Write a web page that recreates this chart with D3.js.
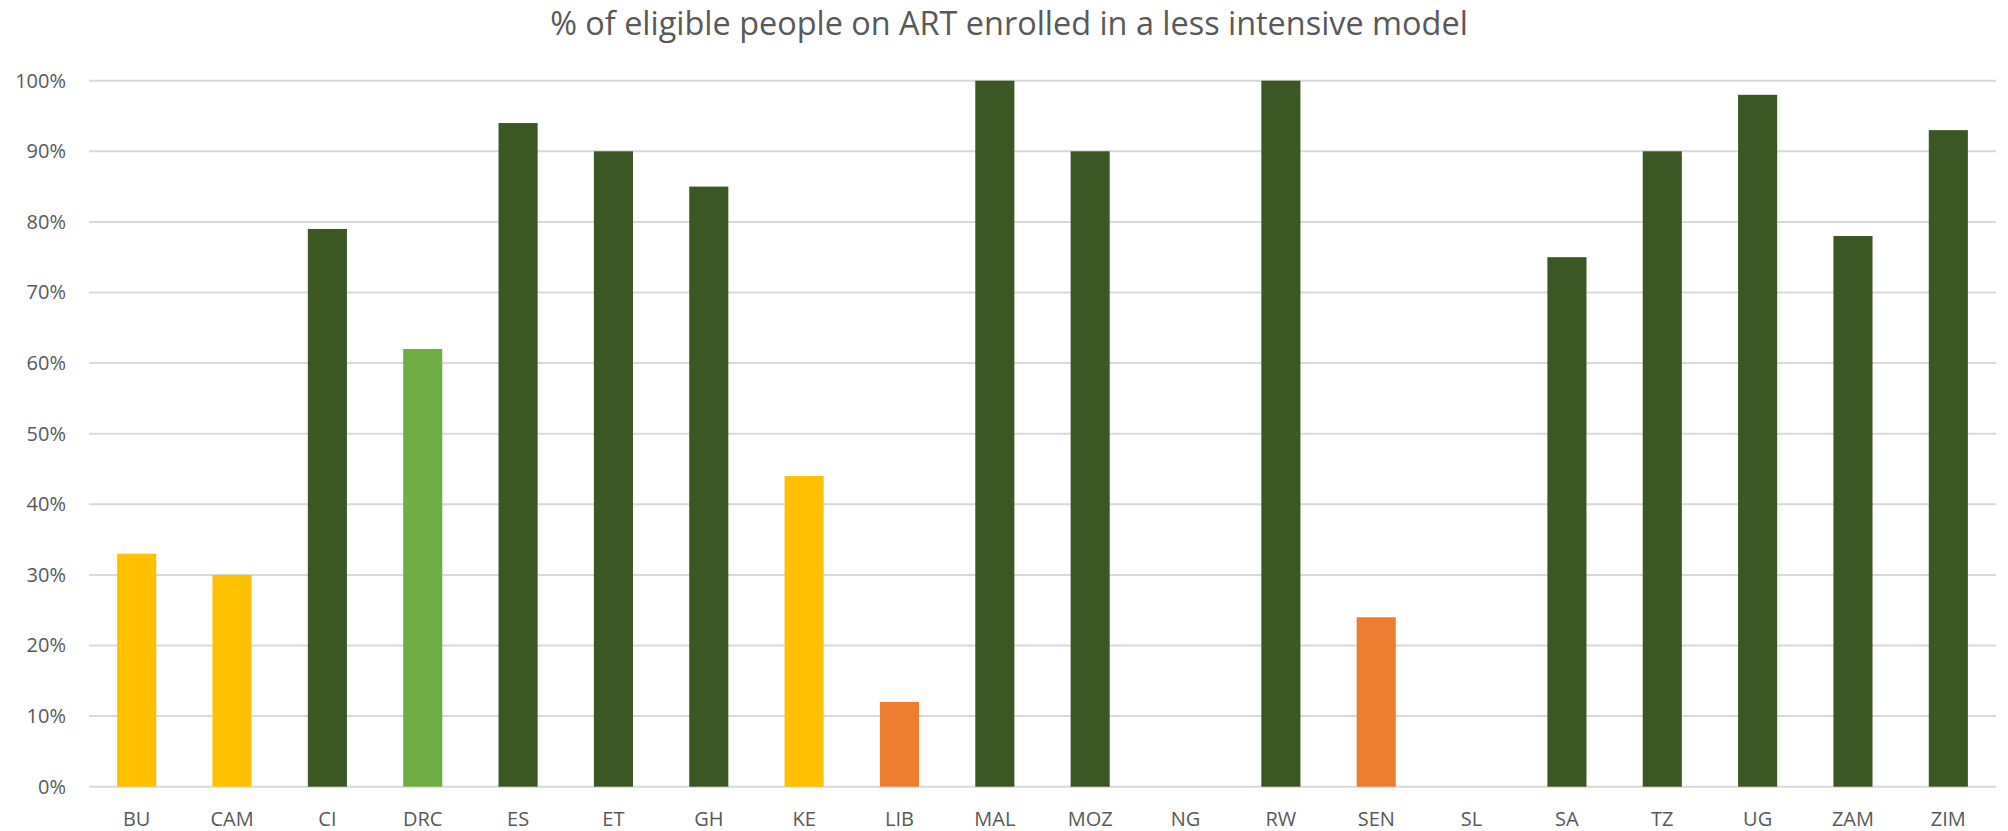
<!DOCTYPE html>
<html>
<head>
<meta charset="utf-8">
<script src="https://cdn.jsdelivr.net/npm/d3@7"></script>
<style>
  html, body { margin: 0; padding: 0; background: #ffffff; }
  svg { display: block; font-family: "Open Sans", "Liberation Sans", sans-serif; }
</style>
</head>
<body>
<svg id="chart" width="2008" height="831"></svg>
<script>
// Countries on the x axis
const countries = ["BU", "CAM", "CI", "DRC", "ES", "ET", "GH", "KE", "LIB", "MAL",
                   "MOZ", "NG", "RW", "SEN", "SL", "SA", "TZ", "UG", "ZAM", "ZIM"];
// Share of eligible people on ART enrolled in a less intensive model (%)
const shares = [33, 30, 79, 62, 94, 90, 85, 44, 12, 100,
                90, 0, 100, 24, 0, 75, 90, 98, 78, 93];
// Coverage band each country falls into
const bands = ["mid", "mid", "high", "upper", "high", "high", "high", "mid", "low", "high",
               "high", "low", "high", "low", "low", "high", "high", "high", "high", "high"];
// Y axis ticks (%)
const yTicks = [0, 10, 20, 30, 40, 50, 60, 70, 80, 90, 100];

const titleText = "% of eligible people on ART enrolled in a less intensive model";

const W = 2008, H = 831;
const plot = { left: 89, right: 1996, top: 80.7, bottom: 786.7 };

const svg = d3.select("#chart");

const x = d3.scaleBand()
  .domain(countries)
  .range([plot.left, plot.right])
  .paddingInner(0.59)
  .paddingOuter(0.295);

const y = d3.scaleLinear()
  .domain([0, 100])
  .range([plot.bottom, plot.top]);

const color = d3.scaleOrdinal()
  .domain(["low", "mid", "upper", "high"])
  .range(["#ED7D31", "#FFC000", "#70AD47", "#3A5724"]);

// Gridlines
svg.append("g")
  .selectAll("line")
  .data(yTicks)
  .join("line")
  .attr("x1", plot.left)
  .attr("x2", plot.right)
  .attr("y1", d => y(d))
  .attr("y2", d => y(d))
  .attr("stroke", "#D9D9D9")
  .attr("stroke-width", 2);

// Y axis labels
const yAxis = d3.axisLeft(y)
  .tickValues(yTicks)
  .tickFormat(d => d + "%")
  .tickSize(0)
  .tickPadding(0);

svg.append("g")
  .attr("transform", `translate(${66},0)`)
  .call(yAxis)
  .call(g => g.select(".domain").remove())
  .call(g => g.selectAll("text")
    .attr("fill", "#595959")
    .attr("font-size", 20)
    .attr("font-family", "'Open Sans', 'Liberation Sans', sans-serif"));

// Bars
svg.append("g")
  .selectAll("rect")
  .data(countries.map((c, i) => ({ c, v: shares[i], b: bands[i] })))
  .join("rect")
  .attr("x", d => x(d.c))
  .attr("width", x.bandwidth())
  .attr("y", d => y(d.v))
  .attr("height", d => y(0) - y(d.v))
  .attr("fill", d => color(d.b));

// X axis labels
const xAxis = d3.axisBottom(x)
  .tickSize(0)
  .tickPadding(0);

svg.append("g")
  .attr("transform", `translate(0,${826})`)
  .call(xAxis)
  .call(g => g.select(".domain").remove())
  .call(g => g.selectAll("text")
    .attr("dy", 0)
    .attr("fill", "#595959")
    .attr("font-size", 20)
    .attr("font-family", "'Open Sans', 'Liberation Sans', sans-serif"));

// Title, sized to its set width
const title = svg.append("text")
  .attr("x", 1009)
  .attr("y", 35)
  .attr("text-anchor", "middle")
  .attr("fill", "#595959")
  .attr("font-size", 28)
  .text(titleText);

const len = title.node().getComputedTextLength();
title.attr("font-size", 28 * 918 / len);
</script>
</body>
</html>
